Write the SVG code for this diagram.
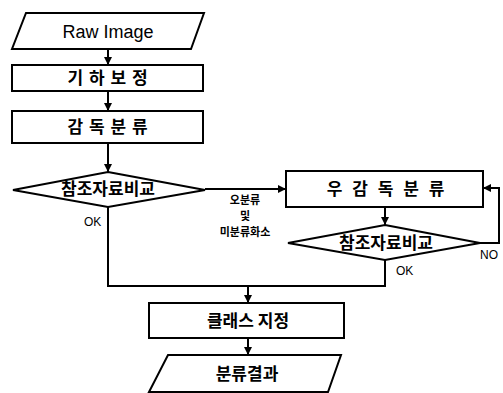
<svg xmlns="http://www.w3.org/2000/svg" width="503" height="393" viewBox="0 0 503 393">
<defs>
<marker id="ah" viewBox="0 0 10 10" refX="10" refY="5" markerWidth="8" markerHeight="8" markerUnits="userSpaceOnUse" orient="auto">
<path d="M0,0 L10,5 L0,10 z" fill="#000"/>
</marker>
<style>
.s{fill:#fff;stroke:#000;stroke-width:2}
.c{fill:none;stroke:#000;stroke-width:2}
.t{font-family:"Noto Sans CJK KR","Noto Sans",sans-serif;font-size:17px;font-weight:bold;text-anchor:middle;fill:#000}
.e{font-family:"Liberation Sans",Arial,sans-serif;font-size:18px;text-anchor:middle;fill:#000}
.l{font-family:"Liberation Sans",Arial,sans-serif;font-size:12px;fill:#000}
.k{font-family:"Noto Sans CJK KR",sans-serif;font-size:11px;font-weight:bold;text-anchor:middle;fill:#000}
</style>
</defs>
<rect width="503" height="393" fill="#fff"/>
<g id="connectors">
<line class="c" x1="108" y1="49" x2="108" y2="65" marker-end="url(#ah)"/>
<line class="c" x1="108" y1="91" x2="108" y2="111" marker-end="url(#ah)"/>
<line class="c" x1="108" y1="143" x2="108" y2="172" marker-end="url(#ah)"/>
<line class="c" x1="205" y1="189" x2="286" y2="189" marker-end="url(#ah)"/>
<line class="c" x1="385" y1="207" x2="385" y2="225" marker-end="url(#ah)"/>
<polyline class="c" points="480,243 499,243 499,188 483,188" marker-end="url(#ah)"/>
<polyline class="c" points="108,207 108,286 385,286 385,260"/>
<line class="c" x1="248" y1="286" x2="248" y2="303" marker-end="url(#ah)"/>
<line class="c" x1="248" y1="338" x2="248" y2="355" marker-end="url(#ah)"/>
<text class="k" x="245" y="204">오분류</text>
<text class="k" x="245" y="220">및</text>
<text class="k" x="245" y="236">미분류화소</text>
<text class="l" x="84" y="226">OK</text>
<text class="l" x="396" y="275">OK</text>
<text class="l" x="480" y="259">NO</text>
</g>
<g id="raw">
<polygon class="s" points="26,13 204,13 191,49 12,49"/>
<text class="e" x="108" y="38">Raw Image</text>
</g>
<g id="geo">
<rect class="s" x="12" y="65" width="191" height="26"/>
<text class="t" x="108" y="84" letter-spacing="1">기 하 보 정</text>
</g>
<g id="sup">
<rect class="s" x="12" y="111" width="191" height="32"/>
<text class="t" x="108" y="133" letter-spacing="1">감 독 분 류</text>
</g>
<g id="cmp1">
<polygon class="s" points="108,172 205,190 108,207 13,190"/>
<text class="t" x="108" y="195" font-size="18">참조자료비교</text>
</g>
<g id="unsup">
<rect class="s" x="286" y="171" width="197" height="36"/>
<text class="t" x="387" y="195" letter-spacing="3">우 감 독 분 류</text>
</g>
<g id="cmp2">
<polygon class="s" points="385,225 480,243 385,260 288,243"/>
<text class="t" x="386" y="249" font-size="18">참조자료비교</text>
</g>
<g id="cls">
<rect class="s" x="149" y="303" width="195" height="35"/>
<text class="t" x="248" y="327">클래스 지정</text>
</g>
<g id="result">
<polygon class="s" points="168,355 341,355 328,392 149,392"/>
<text class="t" x="247" y="380">분류결과</text>
</g>
</svg>
